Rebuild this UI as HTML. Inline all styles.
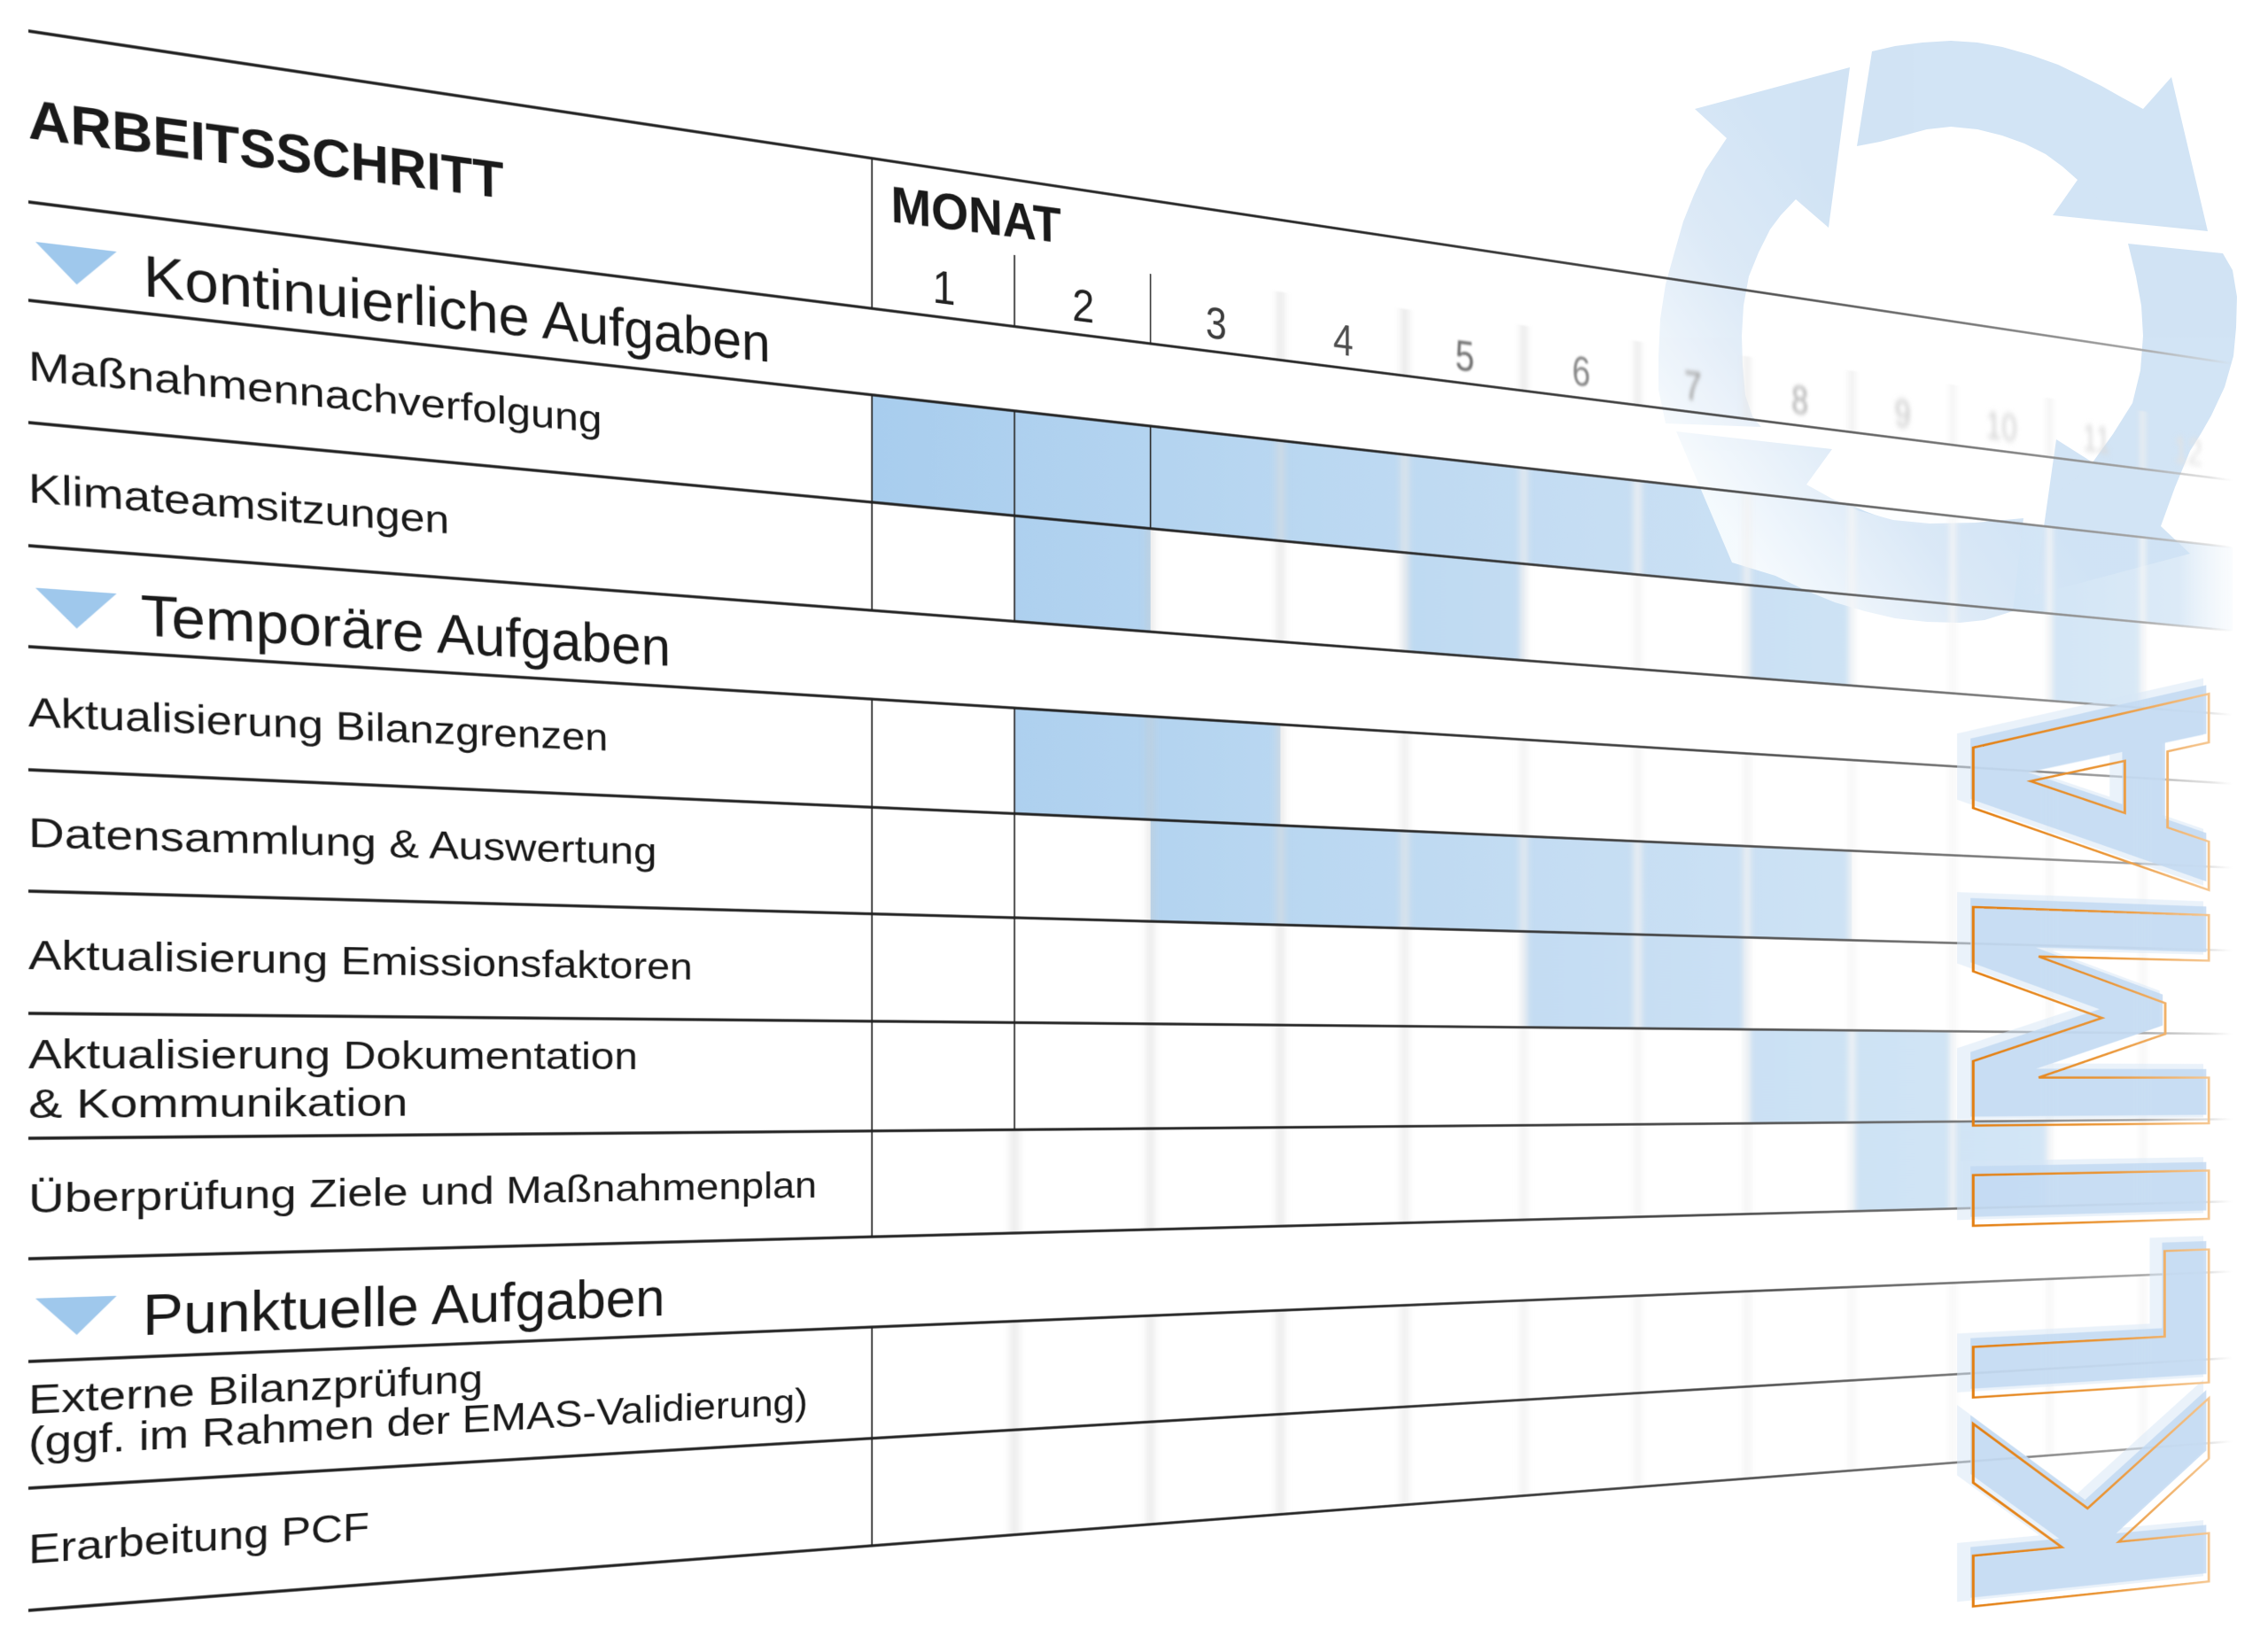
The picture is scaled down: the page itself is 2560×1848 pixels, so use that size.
<!DOCTYPE html>
<html lang="de">
<head>
<meta charset="utf-8">
<title>Arbeitsschritt / Monat – Klima</title>
<style>
html,body{margin:0;padding:0;background:#fff;width:2560px;height:1848px;overflow:hidden}
#wrap{position:relative;width:2560px;height:1848px;overflow:hidden;background:#fff}
.flat{position:absolute;left:0;top:0;width:3700px;height:1848px;overflow:visible;transform-origin:0 0;
 transform:matrix3d(1.0040858,0.155388,0,0.000127681, 0,1,0,0, 0,0,1,0, 32,0,0,1)}
.flat svg{overflow:visible;display:block}
.scr{position:absolute;left:0;top:0;display:block}
</style>
</head>
<body>
<div id="wrap">

<!-- Layer 1: blue cells (flat / perspective) -->
<div class="flat">
<svg width="3700" height="1848" viewBox="0 0 3700 1848" xmlns="http://www.w3.org/2000/svg">
 <defs>
  <linearGradient id="bg" gradientUnits="userSpaceOnUse" x1="1084" y1="0" x2="3646" y2="0">
   <stop offset="0" stop-color="#a8cdee"/>
   <stop offset="0.1" stop-color="#afd1ef"/>
   <stop offset="0.25" stop-color="#b9d7f1"/>
   <stop offset="0.45" stop-color="#c5ddf3"/>
   <stop offset="0.65" stop-color="#cde2f4"/>
   <stop offset="0.85" stop-color="#d4e6f6"/>
   <stop offset="0.95" stop-color="#dceaf7"/>
   <stop offset="1" stop-color="#eef5fb" stop-opacity="0.3"/>
  </linearGradient>
  <filter id="fc" filterUnits="userSpaceOnUse" x="0" y="0" width="3700" height="1848"><feGaussianBlur stdDeviation="6 0"/></filter>
 </defs>
 <g fill="url(#bg)">
  <rect x="1084" y="339" width="2562" height="138"/>
  <rect x="1297.5" y="477" width="213.5" height="139"/>
  <rect x="1297.5" y="730" width="427" height="139"/>
  <rect x="1511" y="869" width="1281" height="137"/>
 </g>
 <g fill="url(#bg)" filter="url(#fc)">
  <rect x="1938" y="477" width="213.5" height="139"/>
  <rect x="2578.5" y="477" width="213.5" height="139"/>
  <rect x="3219" y="477" width="213.5" height="139"/>
  <rect x="2151.5" y="1006" width="427" height="138"/>
  <rect x="2578.5" y="1144" width="427" height="141"/>
  <rect x="2792" y="1285" width="427" height="136"/>
 </g>
</svg>
</div>

<!-- Layer 2: recycling arrows (screen space) -->
<svg class="scr" width="2560" height="1848" viewBox="0 0 2560 1848" xmlns="http://www.w3.org/2000/svg">
 <defs>
  <linearGradient id="ag" gradientUnits="userSpaceOnUse" x1="2120" y1="300" x2="1870" y2="480">
   <stop offset="0" stop-color="#cfe2f4"/>
   <stop offset="0.45" stop-color="#dae8f6"/>
   <stop offset="1" stop-color="#f6fafd"/>
  </linearGradient>
 </defs>
 <ellipse cx="2193" cy="370" rx="230" ry="224" fill="#ffffff" opacity="0.95"/>
 <g fill="url(#ag)" opacity="0.95">
  <path d="M2113,58 L2139,52 L2170,48 L2202,46 L2232,48 L2260,53 L2292,62 L2323,73 L2350,86 L2372,97 L2395,110 L2419,123 L2451,87 L2492,261 L2317,243 L2345,203 L2328,188 L2309,174 L2285,162 L2260,153 L2232,146 L2202,143 L2175,146 L2149,153 L2122,160 L2096,165 Z"/>
  <path d="M2402,275 L2509,286 L2520,305 L2525,335 L2524,370 L2521,402 L2511,437 L2496,469 L2484,490 L2472,509 L2455,550 L2439,594 L2472,625 L2296,672 L2321,496 L2362,522 L2385,490 L2407,455 L2416,418 L2419,379 L2417,345 L2411,312 Z"/>
  <path d="M2284,585 L2272,690 L2240,700 L2212,703 L2175,702 L2139,698 L2105,690 L2071,680 L2037,666 L2004,650 L1955,635 L1892,487 L2068,507 L2039,547 L2068,563 L2096,576 L2137,587 L2178,591 L2230,590 Z"/>
  <path d="M1880,478 L1872,440 L1872,402 L1874,360 L1880,321 L1890,285 L1900,250 L1912,220 L1925,192 L1949,156 L1913,123 L2088,76 L2064,257 L2027,225 L2010,243 L1998,259 L1985,285 L1974,312 L1968,345 L1966,379 L1967,412 L1970,446 L1978,470 L1988,482 Z"/>
 </g>
</svg>

<!-- Layer 3: grid, text, KLIMA (flat / perspective) -->
<div class="flat">
<svg width="3700" height="1848" viewBox="0 0 3700 1848" xmlns="http://www.w3.org/2000/svg" font-family="'Liberation Sans', Arial, sans-serif">
 <defs>
  <linearGradient id="lg" gradientUnits="userSpaceOnUse" x1="0" y1="0" x2="3646" y2="0">
   <stop offset="0" stop-color="#1c1c1c"/>
   <stop offset="0.5" stop-color="#232323"/>
   <stop offset="0.7" stop-color="#4a4a4a"/>
   <stop offset="0.85" stop-color="#7a7a7a"/>
   <stop offset="0.94" stop-color="#a4a4a4"/>
   <stop offset="0.985" stop-color="#c4c4c4" stop-opacity="0.5"/>
   <stop offset="1" stop-color="#d0d0d0" stop-opacity="0"/>
  </linearGradient>
  <linearGradient id="og" gradientUnits="userSpaceOnUse" x1="0" y1="-539" x2="0" y2="0">
   <stop offset="0" stop-color="#e37f12"/>
   <stop offset="0.55" stop-color="#ea9535"/>
   <stop offset="1" stop-color="#f5c690"/>
  </linearGradient>
  <filter id="fA" filterUnits="userSpaceOnUse" x="0" y="0" width="3700" height="1848"><feGaussianBlur stdDeviation="0.7"/></filter>
  <filter id="fB" filterUnits="userSpaceOnUse" x="0" y="0" width="3700" height="1848"><feGaussianBlur stdDeviation="1.8"/></filter>
  <filter id="fC" filterUnits="userSpaceOnUse" x="0" y="0" width="3700" height="1848"><feGaussianBlur stdDeviation="3.2"/></filter>
  <filter id="fD" filterUnits="userSpaceOnUse" x="0" y="0" width="3700" height="1848"><feGaussianBlur stdDeviation="5"/></filter>
  <filter id="fV" filterUnits="userSpaceOnUse" x="0" y="0" width="3700" height="1848"><feGaussianBlur stdDeviation="7 1"/></filter>
 </defs>

 <!-- blurred light vertical bands -->
 <g fill="none" filter="url(#fV)">
  <path d="M1297.5 1285V1421M1297.5 1537V1818" stroke="#c8c8c8" stroke-width="5"/>
  <path d="M1511 477V616M1511 730V1421M1511 1537V1818" stroke="#cacaca" stroke-width="5"/>
  <path d="M1724.5 339V616M1724.5 730V1421M1724.5 1537V1818" stroke="#dcdcdc" stroke-width="8"/>
  <path d="M1938 339V616M1938 730V1421M1938 1537V1818" stroke="#e8e8e8" stroke-width="10"/>
  <path d="M2151.5 339V616M2151.5 730V1421M2151.5 1537V1818" stroke="#eeeeee" stroke-width="10"/>
  <path d="M2365 339V616M2365 730V1421M2365 1537V1818M2578.5 339V616M2578.5 730V1421M2578.5 1537V1818" stroke="#f2f2f2" stroke-width="12"/>
  <path d="M2792 339V616M2792 730V1421M2792 1537V1818M3005.5 339V616M3005.5 730V1421M3005.5 1537V1818M3219 339V616M3219 730V1421M3219 1537V1818M3432.5 339V616M3432.5 730V1421M3432.5 1537V1818" stroke="#f5f5f5" stroke-width="12"/>
  <!-- header dividers, faded -->
  <path d="M1724.5 134V228" stroke="#bcbcbc" stroke-width="4"/>
  <path d="M1938 134V228" stroke="#cdcdcd" stroke-width="6"/>
  <path d="M2151.5 134V228" stroke="#d8d8d8" stroke-width="7"/>
  <path d="M2365 134V228" stroke="#e0e0e0" stroke-width="8"/>
  <path d="M2578.5 134V228" stroke="#e6e6e6" stroke-width="9"/>
  <path d="M2792 134V228" stroke="#ebebeb" stroke-width="10"/>
  <path d="M3005.5 134V228M3219 134V228M3432.5 134V228" stroke="#efefef" stroke-width="10"/>
 </g>

 <!-- dark vertical lines -->
 <path d="M1084 35V228M1084 339V616M1084 730V1421M1084 1537V1818M1297.5 134V228M1297.5 339V616M1297.5 730V1285M1511 339V477" stroke="#2b2b2b" stroke-width="2.3" fill="none"/>
 <path d="M1511 134V228" stroke="#3a3a3a" stroke-width="2.3" fill="none"/>

 <!-- horizontal rules -->
 <path d="M0 35H3646M0 228H3646M0 339H3646M0 477H3646M0 616H3646M0 730H3646M0 869H3646M0 1006H3646M0 1144H3646M0 1285H3646M0 1421H3646M0 1537H3646M0 1680H3646M0 1818H3646" stroke="url(#lg)" stroke-width="3.6" fill="none"/>

 <!-- section triangles -->
 <g fill="#9fc8ec">
  <path d="M8 272H101L55 315Z"/>
  <path d="M8 663H101L55 706Z"/>
  <path d="M8 1466H101L55 1509Z"/>
 </g>

 <!-- headers -->
 <g fill="#1a1a1a" font-weight="bold">
  <text x="0" y="156" font-size="63" textLength="576" lengthAdjust="spacingAndGlyphs" transform="rotate(-0.5 0 156)">ARBEITSSCHRITT</text>
  <text x="1112" y="113" font-size="66" textLength="258" lengthAdjust="spacingAndGlyphs" transform="rotate(-0.8 1112 113)">MONAT</text>
 </g>

 <!-- month numbers -->
 <g font-size="62" text-anchor="middle">
  <g fill="#222"><text x="1190.75" y="210">1</text><text x="1404.25" y="210">2</text></g>
  <g filter="url(#fA)"><text x="1617.75" y="210" fill="#3e3e3e">3</text><text x="1831.25" y="210" fill="#505050">4</text></g>
  <g filter="url(#fB)"><text x="2044.75" y="210" fill="#707070">5</text><text x="2258.25" y="210" fill="#888888">6</text></g>
  <g filter="url(#fC)"><text x="2471.75" y="210" fill="#a0a0a0">7</text><text x="2685.25" y="210" fill="#b0b0b0">8</text></g>
  <g filter="url(#fD)"><text x="2898.75" y="210" fill="#c6c6c6">9</text><text x="3112.25" y="210" fill="#d0d0d0">10</text><text x="3325.75" y="210" fill="#d9d9d9">11</text><text x="3539.25" y="210" fill="#e2e2e2">12</text></g>
 </g>

 <!-- section headings -->
 <g fill="#1a1a1a" font-size="67">
  <text x="132" y="319" textLength="806" lengthAdjust="spacingAndGlyphs" transform="rotate(-0.5 132 319)">Kontinuierliche Aufgaben</text>
  <text x="129" y="709" textLength="670" lengthAdjust="spacingAndGlyphs" transform="rotate(-0.4 129 709)">Temporäre Aufgaben</text>
  <text x="131" y="1512" textLength="660" lengthAdjust="spacingAndGlyphs">Punktuelle Aufgaben</text>
 </g>

 <!-- task labels -->
 <g fill="#1a1a1a" font-size="47">
  <text x="0" y="429" textLength="706" lengthAdjust="spacingAndGlyphs" transform="rotate(-0.5 0 429)">Maßnahmennachverfolgung</text>
  <text x="0" y="567" textLength="506" lengthAdjust="spacingAndGlyphs" transform="rotate(-0.5 0 567)">Klimateamsitzungen</text>
  <text x="0" y="820" textLength="714" lengthAdjust="spacingAndGlyphs" transform="rotate(-0.5 0 820)">Aktualisierung Bilanzgrenzen</text>
  <text x="0" y="956" textLength="780" lengthAdjust="spacingAndGlyphs" transform="rotate(-0.3 0 956)">Datensammlung &amp; Auswertung</text>
  <text x="0" y="1094" textLength="829" lengthAdjust="spacingAndGlyphs">Aktualisierung Emissionsfaktoren</text>
  <text x="0" y="1206" textLength="754" lengthAdjust="spacingAndGlyphs">Aktualisierung Dokumentation</text>
  <text x="0" y="1262" textLength="453" lengthAdjust="spacingAndGlyphs">&amp; Kommunikation</text>
  <text x="0" y="1369" textLength="1004" lengthAdjust="spacingAndGlyphs">Überprüfung Ziele und Maßnahmenplan</text>
  <text x="0" y="1596" textLength="549" lengthAdjust="spacingAndGlyphs">Externe Bilanzprüfung</text>
  <text x="0" y="1644" textLength="991" lengthAdjust="spacingAndGlyphs">(ggf. im Rahmen der EMAS-Validierung)</text>
  <text x="0" y="1765" textLength="405" lengthAdjust="spacingAndGlyphs">Erarbeitung PCF</text>
 </g>

 <!-- KLIMA vertical lettering -->
 <g transform="translate(3589 2084.5) rotate(-90)" font-family="'DejaVu Sans', 'Liberation Sans', sans-serif" font-weight="bold" font-size="739">
  <text x="0" y="0" textLength="1502" lengthAdjust="spacingAndGlyphs" fill="#d6e6f6" stroke="#d6e6f6" stroke-width="22" opacity="0.5" transform="translate(16 -24)">KLIMA</text>
  <text x="0" y="0" textLength="1502" lengthAdjust="spacingAndGlyphs" fill="#c3daf2" opacity="0.85" transform="translate(14 -6)">KLIMA</text>
  <text x="0" y="0" textLength="1502" lengthAdjust="spacingAndGlyphs" fill="none" stroke="url(#og)" stroke-width="6">KLIMA</text>
 </g>
</svg>
</div>

</div>
</body>
</html>
